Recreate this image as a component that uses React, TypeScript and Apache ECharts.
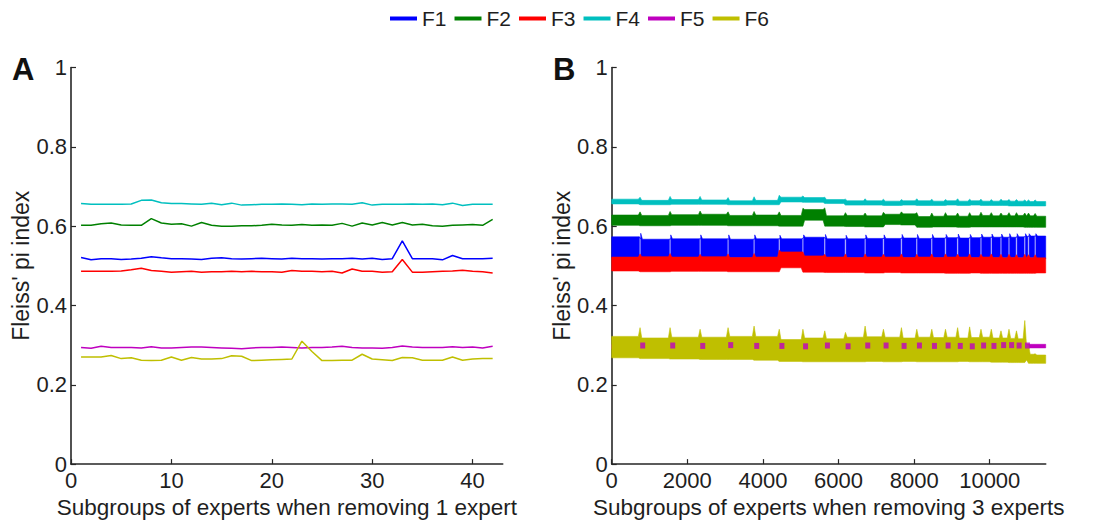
import React, { useEffect, useRef } from "react";
import * as echarts from "echarts";

const FONT = "'Liberation Sans', Arial, Helvetica, sans-serif";
const TEXT = "#1e1e1e";
const AXIS = "#262626";

const seriesNames = ["F1", "F2", "F3", "F4", "F5", "F6"];
const seriesColors = ["#0000ff", "#008000", "#ff0000", "#00bfbf", "#bf00bf", "#bfbf00"];

// ---------- Panel A: removing 1 expert (42 subgroups) ----------
const subgroupsA = [
  1, 2, 3, 4, 5, 6, 7, 8, 9, 10, 11, 12, 13, 14, 15, 16, 17, 18, 19, 20, 21,
  22, 23, 24, 25, 26, 27, 28, 29, 30, 31, 32, 33, 34, 35, 36, 37, 38, 39, 40, 41, 42,
];
const f1A = [0.521, 0.515, 0.518, 0.518, 0.516, 0.517, 0.519, 0.523, 0.52, 0.518, 0.518, 0.517, 0.516, 0.519, 0.52, 0.518, 0.517, 0.518, 0.519, 0.518, 0.517, 0.519, 0.518, 0.518, 0.517, 0.518, 0.518, 0.519, 0.517, 0.519, 0.516, 0.518, 0.563, 0.518, 0.518, 0.518, 0.515, 0.526, 0.518, 0.518, 0.518, 0.519];
const f2A = [0.602, 0.602, 0.606, 0.608, 0.603, 0.602, 0.602, 0.619, 0.608, 0.605, 0.606, 0.6, 0.609, 0.602, 0.6, 0.6, 0.601, 0.601, 0.602, 0.605, 0.603, 0.602, 0.604, 0.602, 0.603, 0.602, 0.607, 0.6, 0.608, 0.603, 0.609, 0.603, 0.609, 0.603, 0.605, 0.601, 0.6, 0.602, 0.603, 0.604, 0.602, 0.617];
const f3A = [0.486, 0.486, 0.486, 0.486, 0.487, 0.49, 0.494, 0.488, 0.486, 0.484, 0.485, 0.486, 0.484, 0.485, 0.485, 0.486, 0.485, 0.486, 0.485, 0.485, 0.484, 0.488, 0.486, 0.486, 0.485, 0.486, 0.482, 0.492, 0.486, 0.486, 0.484, 0.485, 0.516, 0.484, 0.484, 0.485, 0.486, 0.487, 0.489, 0.486, 0.485, 0.482];
const f4A = [0.657, 0.655, 0.655, 0.655, 0.655, 0.656, 0.665, 0.666, 0.659, 0.657, 0.657, 0.656, 0.655, 0.658, 0.654, 0.658, 0.653, 0.654, 0.655, 0.655, 0.656, 0.655, 0.654, 0.656, 0.655, 0.656, 0.656, 0.655, 0.659, 0.653, 0.655, 0.655, 0.655, 0.656, 0.655, 0.656, 0.654, 0.658, 0.652, 0.655, 0.655, 0.655];
const f5A = [0.294, 0.292, 0.297, 0.294, 0.294, 0.294, 0.293, 0.296, 0.293, 0.293, 0.294, 0.295, 0.295, 0.294, 0.293, 0.292, 0.291, 0.293, 0.294, 0.294, 0.295, 0.294, 0.293, 0.294, 0.294, 0.295, 0.297, 0.294, 0.293, 0.293, 0.292, 0.294, 0.298, 0.295, 0.294, 0.294, 0.294, 0.296, 0.294, 0.295, 0.293, 0.297];
const f6A = [0.27, 0.27, 0.27, 0.274, 0.266, 0.268, 0.262, 0.261, 0.262, 0.27, 0.262, 0.269, 0.265, 0.265, 0.266, 0.273, 0.272, 0.261, 0.262, 0.263, 0.264, 0.265, 0.31, 0.284, 0.261, 0.261, 0.262, 0.262, 0.277, 0.265, 0.263, 0.261, 0.269, 0.268, 0.262, 0.262, 0.262, 0.27, 0.262, 0.265, 0.266, 0.266];
const ticksA = [0, 10, 20, 30, 40];

// ---------- Panel B: removing 3 experts (11480 subgroups), per-block envelopes ----------
const blockBoundsB = [0, 750, 1544, 2338, 3078, 3766, 4432, 5058, 5636, 6183, 6703, 7188, 7664, 8070, 8467, 8829, 9150, 9468, 9768, 10041, 10297, 10509, 10707, 10927, 11025, 11201, 11480];
const ticksB = [0, 2000, 4000, 6000, 8000, 10000];

const f1HiB = [0.573, 0.567, 0.568, 0.568, 0.567, 0.568, 0.568, 0.572, 0.568, 0.568, 0.569, 0.569, 0.57, 0.569, 0.57, 0.571, 0.57, 0.571, 0.572, 0.572, 0.572, 0.572, 0.573, 0.574, 0.575, 0.575];
const f1LoB = [0.52, 0.52, 0.52, 0.52, 0.52, 0.52, 0.52, 0.52, 0.52, 0.52, 0.52, 0.52, 0.52, 0.52, 0.52, 0.52, 0.52, 0.52, 0.52, 0.52, 0.52, 0.52, 0.52, 0.52, 0.52, 0.518];
const f1SpikeB = [0.582, 0.578, 0.578, 0.578, 0.578, 0.577, 0.578, 0.579, 0.577, 0.578, 0.578, 0.579, 0.579, 0.579, 0.579, 0.58, 0.579, 0.58, 0.58, 0.58, 0.581, 0.581, 0.581, 0.581, 0.581];

const f2HiB = [0.628, 0.627, 0.629, 0.63, 0.627, 0.628, 0.627, 0.642, 0.626, 0.627, 0.626, 0.63, 0.631, 0.624, 0.625, 0.626, 0.625, 0.626, 0.627, 0.626, 0.627, 0.626, 0.627, 0.626, 0.626, 0.625];
const f2LoB = [0.602, 0.601, 0.602, 0.602, 0.601, 0.601, 0.6, 0.615, 0.6, 0.599, 0.598, 0.604, 0.603, 0.597, 0.598, 0.598, 0.597, 0.598, 0.598, 0.598, 0.598, 0.598, 0.598, 0.597, 0.597, 0.597];
const f2SpikeB = [0.636, 0.637, 0.638, 0.636, 0.637, 0.636, 0.645, 0.646, 0.634, 0.633, 0.635, 0.636, 0.634, 0.633, 0.634, 0.633, 0.634, 0.635, 0.634, 0.633, 0.634, 0.634, 0.633, 0.633, 0.632];

const f3HiB = [0.522, 0.523, 0.522, 0.523, 0.521, 0.522, 0.535, 0.525, 0.522, 0.521, 0.522, 0.522, 0.521, 0.522, 0.521, 0.522, 0.522, 0.521, 0.522, 0.521, 0.52, 0.521, 0.52, 0.521, 0.52, 0.52];
const f3LoB = [0.487, 0.485, 0.486, 0.486, 0.485, 0.485, 0.495, 0.484, 0.483, 0.483, 0.482, 0.483, 0.482, 0.482, 0.482, 0.481, 0.481, 0.482, 0.481, 0.481, 0.481, 0.481, 0.481, 0.481, 0.481, 0.482];
const f3SpikeB = [0.53, 0.531, 0.529, 0.53, 0.531, 0.54, 0.532, 0.529, 0.53, 0.53, 0.529, 0.53, 0.529, 0.53, 0.53, 0.529, 0.53, 0.529, 0.53, 0.529, 0.529, 0.528, 0.529, 0.528, 0.528];

const f4HiB = [0.668, 0.665, 0.667, 0.666, 0.664, 0.665, 0.673, 0.672, 0.667, 0.664, 0.664, 0.663, 0.664, 0.664, 0.663, 0.664, 0.663, 0.664, 0.663, 0.663, 0.664, 0.663, 0.663, 0.662, 0.662, 0.662];
const f4LoB = [0.656, 0.654, 0.655, 0.655, 0.654, 0.654, 0.661, 0.66, 0.657, 0.653, 0.653, 0.652, 0.653, 0.652, 0.652, 0.653, 0.652, 0.653, 0.652, 0.652, 0.652, 0.651, 0.651, 0.651, 0.651, 0.651];
const f4SpikeB = [0.673, 0.675, 0.675, 0.672, 0.674, 0.678, 0.676, 0.673, 0.668, 0.669, 0.668, 0.667, 0.669, 0.668, 0.667, 0.669, 0.668, 0.668, 0.667, 0.668, 0.667, 0.667, 0.666, 0.666, 0.666];

const f5HiB = [0.301, 0.301, 0.301, 0.301, 0.301, 0.301, 0.301, 0.301, 0.301, 0.301, 0.301, 0.301, 0.301, 0.301, 0.301, 0.301, 0.301, 0.301, 0.301, 0.301, 0.301, 0.301, 0.302, 0.302, 0.302, 0.302];
const f5LoB = [0.291, 0.291, 0.291, 0.291, 0.291, 0.291, 0.291, 0.291, 0.291, 0.291, 0.291, 0.291, 0.291, 0.291, 0.291, 0.291, 0.291, 0.291, 0.291, 0.291, 0.291, 0.291, 0.292, 0.293, 0.293, 0.293];
const f5MarkB = [0.299, 0.299, 0.298, 0.3, 0.298, 0.298, 0.297, 0.299, 0.297, 0.299, 0.299, 0.298, 0.299, 0.298, 0.299, 0.298, 0.297, 0.299, 0.298, 0.3, 0.3, 0.299, 0.299];

const f6HiB = [0.322, 0.318, 0.32, 0.32, 0.322, 0.322, 0.314, 0.318, 0.316, 0.32, 0.321, 0.32, 0.318, 0.32, 0.319, 0.32, 0.318, 0.319, 0.32, 0.318, 0.318, 0.317, 0.316, 0.3, 0.277, 0.275];
const f6LoB = [0.268, 0.266, 0.265, 0.264, 0.264, 0.262, 0.259, 0.258, 0.258, 0.258, 0.259, 0.258, 0.259, 0.258, 0.258, 0.258, 0.259, 0.258, 0.258, 0.257, 0.257, 0.256, 0.256, 0.262, 0.254, 0.254];
const f6SpikeB = [0.344, 0.344, 0.34, 0.344, 0.348, 0.34, 0.34, 0.336, 0.332, 0.348, 0.34, 0.344, 0.34, 0.34, 0.34, 0.344, 0.346, 0.34, 0.34, 0.336, 0.34, 0.336, 0.362, 0.3, 0.278];

type Pt = [number, number, number];

function buildBand(bounds: number[], lo: number[], hi: number[], spike: number[] | null, gap: boolean): Pt[] {
  const G = 18;
  const S = 45;
  const pts: Pt[] = [];
  const n = lo.length;
  pts.push([bounds[0], lo[0], hi[0]]);
  for (let k = 1; k < n; k++) {
    const b = bounds[k];
    const sp = spike ? spike[k - 1] : null;
    if (gap) {
      pts.push([b - G, lo[k - 1], hi[k - 1]]);
      pts.push([b - G, hi[k - 1], hi[k - 1]]);
      pts.push([b + G, hi[k], hi[k]]);
      pts.push([b + G, lo[k], sp != null ? Math.max(sp, hi[k]) : hi[k]]);
      pts.push([b + G + S, lo[k], hi[k]]);
    } else if (sp != null) {
      pts.push([b - S, lo[k - 1], hi[k - 1]]);
      pts.push([b, Math.min(lo[k - 1], lo[k]), Math.max(sp, hi[k - 1], hi[k])]);
      pts.push([b + S, lo[k], hi[k]]);
    } else {
      pts.push([b, lo[k - 1], hi[k - 1]]);
      pts.push([b, lo[k], hi[k]]);
    }
  }
  pts.push([bounds[n], lo[n - 1], hi[n - 1]]);
  return pts;
}

export default function App() {
  const ref = useRef<HTMLDivElement>(null);

  useEffect(() => {
    if (!ref.current) return;
    const chart = echarts.init(ref.current, null, { renderer: "svg" });

    const seriesA = [f1A, f2A, f3A, f4A, f5A, f6A].map((vals, i) => ({
      name: seriesNames[i],
      type: "line",
      xAxisIndex: 0,
      yAxisIndex: 0,
      showSymbol: false,
      symbol: "none",
      silent: true,
      color: seriesColors[i],
      lineStyle: { width: 1.5, color: seriesColors[i] },
      data: subgroupsA.map((x, j) => [x, vals[j]]),
      z: 2 + i,
    }));

    const bandDefs = [
      { lo: f1LoB, hi: f1HiB, spike: f1SpikeB, gap: true },
      { lo: f2LoB, hi: f2HiB, spike: f2SpikeB, gap: false },
      { lo: f3LoB, hi: f3HiB, spike: f3SpikeB, gap: false },
      { lo: f4LoB, hi: f4HiB, spike: f4SpikeB, gap: false },
      { lo: f5LoB, hi: f5HiB, spike: null, gap: false },
      { lo: f6LoB, hi: f6HiB, spike: f6SpikeB, gap: false },
    ];

    const seriesB: any[] = bandDefs.map((d, i) => {
      const pts = buildBand(blockBoundsB, d.lo, d.hi, d.spike, d.gap);
      const color = seriesColors[i];
      return {
        name: seriesNames[i],
        type: "custom",
        xAxisIndex: 1,
        yAxisIndex: 1,
        silent: true,
        color,
        itemStyle: { color },
        encode: { x: 0, y: [1, 2] },
        data: pts,
        z: 10 + i,
        renderItem: (params: any, api: any) => {
          if (params.dataIndex !== 0) return null;
          const top = pts.map((p) => api.coord([p[0], p[2]]));
          const bot = pts.map((p) => api.coord([p[0], p[1]])).reverse();
          return {
            type: "polygon",
            shape: { points: top.concat(bot) },
            style: { fill: color, stroke: color, lineWidth: 0.6 },
          };
        },
      };
    });
    seriesB.push({
      name: "F5",
      type: "scatter",
      xAxisIndex: 1,
      yAxisIndex: 1,
      symbol: "rect",
      symbolSize: [5, 6],
      silent: true,
      color: seriesColors[4],
      itemStyle: { color: seriesColors[4] },
      data: f5MarkB.map((v, k) => [blockBoundsB[k + 1] + 70, v]),
      z: 30,
    });

    const yAxisCommon = {
      type: "value",
      min: 0,
      max: 1,
      interval: 0.2,
      name: "Fleiss' pi index",
      nameLocation: "middle",
      nameGap: 38,
      nameTextStyle: { fontSize: 23, fontFamily: FONT, color: TEXT },
      axisLine: { show: true, lineStyle: { color: AXIS, width: 1.6 } },
      axisTick: { show: true, inside: true, length: 5, lineStyle: { color: AXIS, width: 1.2 } },
      axisLabel: { fontSize: 22, fontFamily: FONT, color: TEXT, margin: 4 },
      splitLine: { show: false },
    };

    const xTick = { show: true, inside: true, length: 5, lineStyle: { color: AXIS, width: 1.2 } };
    const xAxisCommon = {
      type: "value",
      nameLocation: "middle",
      nameGap: 29,
      nameTextStyle: { fontSize: 22.5, fontFamily: FONT, color: TEXT },
      axisLine: { show: true, onZero: false, lineStyle: { color: AXIS, width: 1.6 } },
      splitLine: { show: false },
    };

    chart.setOption({
      animation: false,
      backgroundColor: "#ffffff",
      textStyle: { fontFamily: FONT },
      legend: {
        data: seriesNames.map((n) => ({ name: n, icon: "rect" })),
        left: 385,
        top: 3,
        itemWidth: 27,
        itemHeight: 4,
        itemGap: 8,
        selectedMode: false,
        textStyle: { fontSize: 21, fontFamily: FONT, color: TEXT },
      },
      grid: [
        { left: 71, top: 67.5, width: 431.7, height: 400.5 },
        { left: 611.7, top: 67.5, width: 434, height: 400.5 },
      ],
      xAxis: [
        {
          ...xAxisCommon,
          gridIndex: 0,
          min: 0,
          max: 43,
          interval: 10,
          name: "Subgroups of experts when removing 1 expert",
          axisTick: { ...xTick, customValues: ticksA },
          axisLabel: {
            fontSize: 22, fontFamily: FONT, color: TEXT, margin: 5,
            customValues: ticksA,
            formatter: (v: number) => String(v),
          },
        },
        {
          ...xAxisCommon,
          gridIndex: 1,
          min: 0,
          max: 11480,
          interval: 2000,
          name: "Subgroups of experts when removing 3 experts",
          axisTick: { ...xTick, customValues: ticksB },
          axisLabel: {
            fontSize: 22, fontFamily: FONT, color: TEXT, margin: 5,
            customValues: ticksB,
            formatter: (v: number) => String(v),
          },
        },
      ],
      yAxis: [
        { ...yAxisCommon, gridIndex: 0 },
        { ...yAxisCommon, gridIndex: 1 },
      ],
      graphic: [
        { type: "text", left: 12, top: 54, style: { text: "A", fontSize: 31, fontWeight: "bold", fontFamily: FONT, fill: "#111" } },
        { type: "text", left: 553, top: 54, style: { text: "B", fontSize: 31, fontWeight: "bold", fontFamily: FONT, fill: "#111" } },
      ],
      series: [...seriesA, ...seriesB],
    });

    return () => {
      chart.dispose();
    };
  }, []);

  return (
    <div
      ref={ref}
      style={{ position: "fixed", left: 0, top: 0, width: 1097, height: 524, background: "#fff" }}
    />
  );
}
